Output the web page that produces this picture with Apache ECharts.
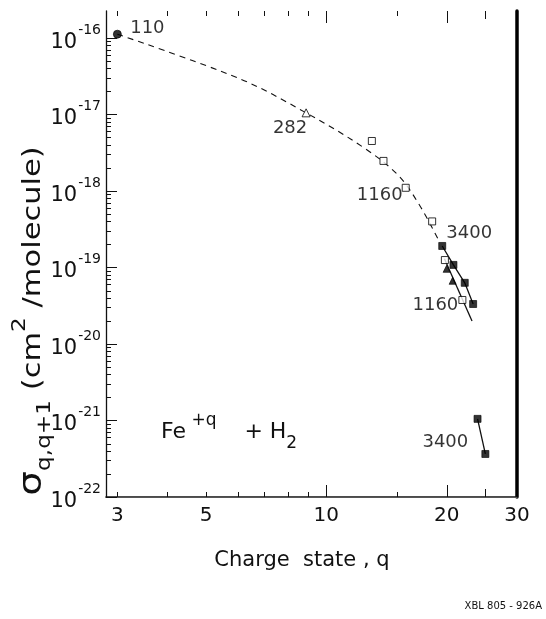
<!DOCTYPE html>
<html>
<head>
<meta charset="utf-8">
<script src="https://cdn.jsdelivr.net/npm/echarts@6/dist/echarts.min.js"></script>
<style>
  html, body { margin: 0; padding: 0; background: #ffffff; }
  #chart { width: 546px; height: 619px; }
</style>
</head>
<body>
<div id="chart"></div>
<script>
// Electron-capture cross sections for Fe(+q) + H2 versus charge state (log-log)

// Axis ticks and labels
const xTickLabels = [3, 5, 10, 20, 30];
const xMajorTicks = [10, 20];
const xMidTicks = [25];
const xMinorTicks = [3, 4, 5, 6, 7, 8, 9, 15];
const yDecadeExponents = [-22, -21, -20, -19, -18, -17, -16];

// Measured points [q, sigma (cm^2/molecule)]
const filledCircle = [[3.0, 1.12e-16]];
const openTriangle = [[8.9, 1.05e-17]];
const openSquares = [[13.0, 4.5e-18], [13.9, 2.47e-18], [15.8, 1.1e-18], [18.4, 4.0e-19], [19.8, 1.25e-19], [21.9, 3.76e-20]];
const filledSquares = [[19.5, 1.91e-19], [20.8, 1.08e-19], [22.2, 6.3e-20], [23.3, 3.33e-20]];
const filledTriangles = [[20.0, 9.6e-20], [20.7, 6.7e-20]];
const filledSquaresLow = [[23.9, 1.05e-21], [25.0, 3.65e-22]];

// Guide curves
const dashedTrend = [[3.0, 1.12e-16], [6.09, 2.91e-17], [8.9, 1.05e-17], [12.33, 3.76e-18], [15.1, 1.62e-18], [17.1, 6.56e-19], [19.2, 2.15e-19]];
const solid1160 = [[19.75, 1.3e-19], [23.15, 2.0e-20]];

// Ion energies (keV) attached to points
const energyLabels = ['110', '282', '1160', '3400', '1160', '3400'];

const FONT = 'DejaVu Sans';
const INK = '#111111';

const yMinorTicks = [];
yDecadeExponents.slice(0, -1).forEach(function (e) {
  for (let m = 2; m <= 9; m++) yMinorTicks.push(m * Math.pow(10, e));
});
const yMajorTicks = yDecadeExponents.map(function (e) { return Math.pow(10, e); });

const X_MIN = 2.81, X_MAX = 30;
const Y_MIN = 1e-22, Y_MAX = 2.25e-16;
const GRID = { left: 106, right: 29, top: 11, bottom: 122 };

const xMain = {
  type: 'log', logBase: 10, min: X_MIN, max: X_MAX, position: 'bottom',
  axisLine: { show: true, lineStyle: { color: INK, width: 1.5 } },
  axisTick: { show: false }, splitLine: { show: false },
  axisLabel: {
    show: true, customValues: xTickLabels, margin: 9,
    color: INK, fontFamily: FONT, fontSize: 20,
    formatter: function (v) { return String(Math.round(v)); }
  }
};
const xTopLine = {
  type: 'log', logBase: 10, min: X_MIN, max: X_MAX, position: 'top',
  axisLine: { show: true, lineStyle: { color: '#555', width: 1 } },
  axisTick: { show: false }, splitLine: { show: false }, axisLabel: { show: false }
};
const yMain = {
  type: 'log', logBase: 10, min: Y_MIN, max: Y_MAX, position: 'left',
  axisLine: { show: true, lineStyle: { color: INK, width: 1.3 } },
  axisTick: { show: false }, splitLine: { show: false },
  axisLabel: {
    show: true, customValues: yMajorTicks, margin: 5,
    formatter: function (v) {
      return '{n|10}{e|' + Math.round(Math.log10(v)) + '}';
    },
    rich: {
      n: { fontFamily: FONT, fontSize: 21, color: INK, lineHeight: 30, verticalAlign: 'bottom' },
      e: { fontFamily: FONT, fontSize: 14, color: INK, lineHeight: 30, verticalAlign: 'top', padding: [0, 0, 0, 1] }
    }
  }
};
const yRightBorder = {
  type: 'log', logBase: 10, min: Y_MIN, max: Y_MAX, position: 'right',
  axisLine: { show: true, lineStyle: { color: '#000', width: 3.5 } },
  axisTick: { show: false }, splitLine: { show: false }, axisLabel: { show: false }
};

function pointSeries(name, data, symbol, filled, size) {
  return {
    name: name, type: 'scatter', xAxisIndex: 0, yAxisIndex: 0, data: data, symbol: symbol, symbolSize: size,
    itemStyle: filled ? { color: '#000', borderColor: '#000', borderWidth: 0.8 } : { color: '#fff', borderColor: '#000', borderWidth: 1 },
    z: 5, silent: true
  };
}
function lineSeries(name, data, extra) {
  return Object.assign({
    name: name, type: 'line', xAxisIndex: 0, yAxisIndex: 0, data: data, symbol: 'none',
    lineStyle: { color: INK, width: 1.3 }, z: 3, silent: true
  }, extra || {});
}

// Energy tags: anchors are existing measured points, text centre offsets in px
const tagAnchors = [filledCircle[0], openTriangle[0], openSquares[2], filledSquares[0], openSquares[5], filledSquaresLow[1]];
const tagOffsets = [[30, -6], [-16, 15], [-26, 8], [27, -13], [-27, 5], [-40, -12]];
const tagData = tagAnchors.map(function (p, i) {
  return {
    value: [p[0], p[1]],
    label: { show: true, position: 'inside', offset: tagOffsets[i], formatter: energyLabels[i] }
  };
});

const textGraphics = [
  {
    id: 'reaction', type: 'text', left: 161, top: 412, silent: true,
    style: {
      text: '{b|Fe}{sup| +q}{b|    + H}{sub|2}',
      rich: {
        b: { fontFamily: FONT, fontSize: 22, fill: INK, lineHeight: 40, verticalAlign: 'middle' },
        sup: { fontFamily: FONT, fontSize: 17, fill: INK, lineHeight: 40, verticalAlign: 'top' },
        sub: { fontFamily: FONT, fontSize: 17, fill: INK, lineHeight: 40, verticalAlign: 'bottom' }
      }
    }
  },
  {
    id: 'yName', type: 'text', x: 33, y: 321, rotation: Math.PI / 2, scaleX: 1.22, silent: true,
    style: {
      text: '{s|σ}{sub|q,q+1}{b| (cm}{sup|2}{b| /molecule)}',
      align: 'center', verticalAlign: 'middle',
      rich: {
        s: { fontFamily: FONT, fontSize: 32, fill: INK, lineHeight: 44, verticalAlign: 'middle' },
        b: { fontFamily: FONT, fontSize: 25, fill: INK, lineHeight: 44, verticalAlign: 'middle' },
        sup: { fontFamily: FONT, fontSize: 19, fill: INK, lineHeight: 44, verticalAlign: 'top' },
        sub: { fontFamily: FONT, fontSize: 19, fill: INK, lineHeight: 44, verticalAlign: 'bottom' }
      }
    }
  },
  {
    id: 'xName', type: 'text', x: 302, y: 561, silent: true,
    style: { text: 'Charge  state , q', align: 'center', verticalAlign: 'middle', fontFamily: FONT, fontSize: 21, fill: INK }
  },
  {
    id: 'plate', type: 'text', right: 4, top: 601, silent: true,
    style: { text: 'XBL 805 - 926A', fontFamily: FONT, fontSize: 10, fill: INK }
  }
];

const option = {
  animation: false,
  backgroundColor: '#ffffff',
  grid: { left: GRID.left, right: GRID.right, top: GRID.top, bottom: GRID.bottom, containLabel: false, outerBoundsMode: 'none' },
  xAxis: [xMain, xTopLine],
  yAxis: [yMain, yRightBorder],
  series: [
    lineSeries('trend', dashedTrend, { smooth: 0.35, lineStyle: { color: INK, width: 1.1, type: [6, 5] } }),
    lineSeries('fit3400', filledSquares.slice()),
    lineSeries('fit1160', solid1160),
    lineSeries('fit3400low', filledSquaresLow),
    pointSeries('circle', filledCircle, 'circle', true, 8),
    pointSeries('triangleOpen', openTriangle, 'triangle', false, 8),
    pointSeries('squaresOpen', openSquares, 'rect', false, 7),
    pointSeries('squaresFilled', filledSquares, 'rect', true, 7),
    pointSeries('trianglesFilled', filledTriangles, 'triangle', true, 7),
    pointSeries('squaresLow', filledSquaresLow, 'rect', true, 7),
    {
      name: 'energies', type: 'scatter', data: tagData, symbolSize: 1,
      itemStyle: { color: 'rgba(0,0,0,0)' }, silent: true, z: 6,
      label: { color: '#000', fontFamily: FONT, fontSize: 18 }
    }
  ],
  graphic: textGraphics
};

const host = document.getElementById('chart');
const chart = echarts.init(host, null, { renderer: 'canvas', width: 546, height: 619 });
chart.setOption(option);

// Inward tick marks along the frame, drawn as thin filled bars on their own layer;
// positions come from the log axes
const plotLeft = GRID.left;
const plotTop = GRID.top;
const plotBottom = 619 - GRID.bottom;
const plotRight = 546 - GRID.right;
function lg(v) { return Math.log(v) / Math.LN10; }
function xPix(v) {
  const p = chart.convertToPixel({ xAxisIndex: 0 }, v);
  if (typeof p === 'number' && isFinite(p)) return p;
  return plotLeft + (lg(v) - lg(X_MIN)) / (lg(X_MAX) - lg(X_MIN)) * (plotRight - plotLeft);
}
function yPix(v) {
  const p = chart.convertToPixel({ yAxisIndex: 0 }, v);
  if (typeof p === 'number' && isFinite(p)) return p;
  return plotTop + (lg(Y_MAX) - lg(v)) / (lg(Y_MAX) - lg(Y_MIN)) * (plotBottom - plotTop);
}
function tickBar(id, x, y, w, h) {
  return { id: id, type: 'rect', silent: true, zlevel: 5, z: 100, shape: { x: x, y: y, width: w, height: h }, style: { fill: INK } };
}
const tickGraphics = [];
[[xMajorTicks, 12], [xMidTicks, 8], [xMinorTicks, 5]].forEach(function (group) {
  group[0].forEach(function (v) {
    const x = Math.round(xPix(v));
    tickGraphics.push(tickBar('xb' + v, x, plotBottom - group[1], 1, group[1]));
    tickGraphics.push(tickBar('xt' + v, x, plotTop, 1, group[1]));
  });
});
[[yMajorTicks, 11], [yMinorTicks, 5]].forEach(function (group) {
  group[0].forEach(function (v, i) {
    const y = Math.round(yPix(v));
    tickGraphics.push(tickBar('yl' + group[1] + '_' + i, plotLeft, y, group[1], 1));
  });
});
chart.setOption({ graphic: textGraphics.concat(tickGraphics) });
</script>
</body>
</html>
